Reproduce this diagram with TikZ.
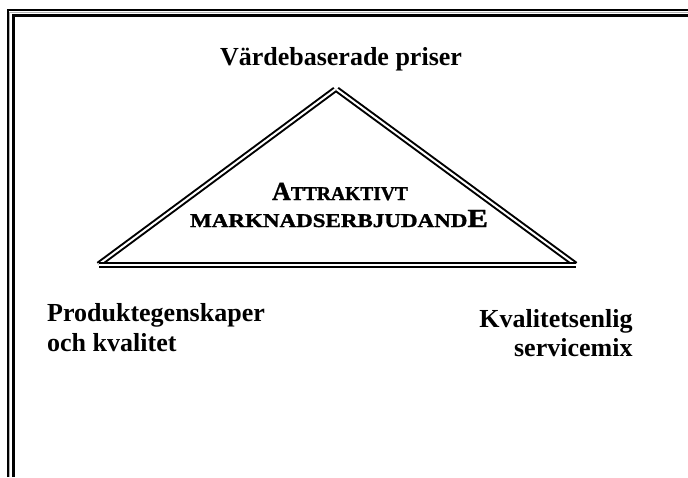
\documentclass[tikz,border=0pt]{standalone}
\usepackage{fontspec}
\setmainfont{Liberation Serif}
\newfontfamily\heavyserif[FakeBold=1.2]{Liberation Serif Bold}
\usepackage{graphicx}
\begin{document}
\begin{tikzpicture}[x=1pt,y=-1pt,
  label/.style={inner sep=0pt,font=\fontsize{26}{30}\selectfont\bfseries},
  title/.style={inner sep=0pt,font=\heavyserif},
  rim/.style={line width=2.4pt,draw=black},
  side/.style={draw=black,line width=2pt,double=white,double distance=2pt}]
  \useasboundingbox (0,0) rectangle (688,477);
  \fill[white] (0,0) rectangle (688,477);
  % frame lines along the left and top edges
  \draw[rim] (7.8,477) -- (7.8,10) -- (688,10);
  \draw[rim] (13.5,477) -- (13.5,15.5) -- (688,15.5);
  \draw[gray!60,line width=0.7pt] (9.8,477) -- (9.8,12) -- (688,12);
  % triangle corners
  \coordinate (apex) at (336,89.5);
  \coordinate (bl) at (98.5,264.5);
  \coordinate (br) at (575.5,264.5);
  % each side drawn as its own double stroke
  \draw[side] (bl) -- ([xshift=-1pt]apex);
  \draw[side] ([xshift=1pt]apex) -- (br);
  \draw[side] (bl) -- (br);
  % labels
  \node[label,anchor=base] (top) at (341,65.5) {Värdebaserade priser};
  \node[title,anchor=base] (t1) at (340,200)
    {\fontsize{26}{30}\selectfont A\fontsize{19.5}{24}\selectfont TTRAKTIVT};
  \node[title,anchor=base] (t2) at (339,227)
    {\scalebox{1.18}[1]{\fontsize{19.5}{24}\selectfont MARKNADSERBJUDAND\fontsize{26}{30}\selectfont E}};
  \node[label,anchor=base west] (l1) at (47,321.7) {Produktegenskaper};
  \node[label,anchor=base west] (l2) at (47,351.7) {och kvalitet};
  \node[label,anchor=base east] (r1) at (632.7,327.3) {Kvalitetsenlig};
  \node[label,anchor=base east] (r2) at (632.7,356) {servicemix};
\end{tikzpicture}
\end{document}
